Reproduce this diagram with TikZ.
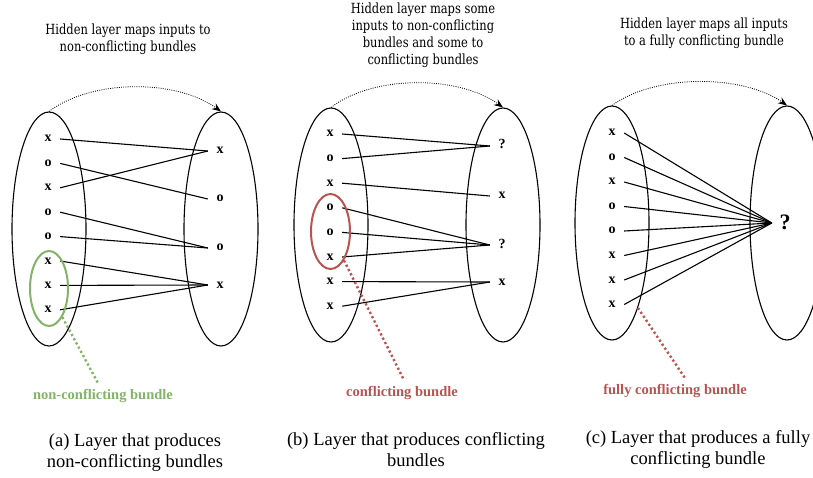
\documentclass[tikz,border=0pt]{standalone}
\usepackage{fontspec}
\setmainfont{Liberation Serif}
\newfontfamily\titlefont[FakeStretch=0.82]{DejaVu Serif}
\usetikzlibrary{shapes.geometric,arrows.meta}
\definecolor{bundlegreen}{HTML}{82B366}
\definecolor{bundlered}{HTML}{B85450}

\tikzset{
  layer/.style={draw, ellipse, line width=1.1pt, minimum width=74pt,
    minimum height=234pt, inner sep=0pt},
  item/.style={font=\bfseries\fontsize{14}{14}\selectfont, inner sep=0pt,
    text height=6pt, text depth=0pt, minimum width=24pt},
  bigq/.style={font=\bfseries\fontsize{22}{22}\selectfont, inner sep=0pt,
    text height=13pt, text depth=0pt, minimum width=26pt},
  link/.style={line width=1.1pt},
  hop/.style={line width=0.8pt, dash pattern=on 0.9pt off 1.3pt,
    -{Stealth[length=9pt,width=7pt]}},
  bundle/.style={draw, ellipse, line width=2pt, inner sep=0pt},
  pointer/.style={line width=2.4pt, dash pattern=on 2.2pt off 2.6pt},
  tag/.style={font=\bfseries\fontsize{14.5}{14.5}\selectfont, inner sep=0pt},
  heading/.style={font=\titlefont\fontsize{14}{17}\selectfont, align=center, inner sep=0pt},
  caption/.style={font=\fontsize{18.5}{21}\selectfont, align=center, inner sep=0pt},
}

\begin{document}
\begin{tikzpicture}[x=1pt,y=-1pt]
\useasboundingbox (0,0) rectangle (813,478);

% ---------------- (a) non-conflicting bundles ----------------
\node[heading] (ha) at (128,39.5) {Hidden layer maps inputs to\\non-conflicting bundles};
\node[layer] (la) at (49,229) {};
\node[layer] (ra) at (221,229) {};
\draw[hop] (la.north) .. controls (92,79) and (176,79) .. (ra.north);

\foreach \t [count=\i] in {x,o,x,o,o,x,x,x}
  \node[item] (a\i) at (48,{139+24.4*(\i-1)}) {\t};
\node[item] (ar1) at (220,151) {x};
\node[item] (ar2) at (220,199) {o};
\node[item] (ar3) at (220,248) {o};
\node[item] (ar4) at (220,285) {x};

\foreach \s/\e in {1/1,2/2,3/1,4/3,5/3,6/4,7/4,8/4}
  \draw[link] (a\s.east) -- (ar\e.west);

\node[bundle, draw=bundlegreen, minimum width=38pt, minimum height=75pt] (ga) at (49,288.5) {};
\node[tag, text=bundlegreen] (ta) at (103,396) {non-conflicting bundle};
\draw[pointer, draw=bundlegreen] (ga.-65) -- ([xshift=-5pt,yshift=6pt]ta.north);

\node[caption] (ca) at (135,453) {(a) Layer that produces\\non-conflicting bundles};

% ---------------- (b) partly conflicting bundles ----------------
\node[heading] (hb) at (423,35) {Hidden layer maps some\\inputs to non-conflicting\\bundles and some to\\conflicting bundles};
\node[layer] (lb) at (331,225) {};
\node[layer] (rb) at (503,225) {};
\draw[hop] (lb.north) .. controls (373,75) and (458,75) .. (rb.north);

\foreach \t [count=\i] in {x,o,x,o,o,x,x,x}
  \node[item] (b\i) at (330,{134+24.6*(\i-1)}) {\t};
\node[item] (br1) at (502,146) {?};
\node[item] (br2) at (502,196) {x};
\node[item] (br3) at (502,245) {?};
\node[item] (br4) at (502,282) {x};

\foreach \s/\e in {1/1,2/1,3/2,4/3,5/3,6/3,7/4,8/4}
  \draw[link] (b\s.east) -- (br\e.west);

\node[bundle, draw=bundlered, minimum width=39pt, minimum height=75pt] (rdb) at (330.5,231.5) {};
\node[tag, text=bundlered] (tb) at (402,393) {conflicting bundle};
\draw[pointer, draw=bundlered] (rdb.-65) -- ([xshift=2pt,yshift=6pt]tb.north);

\node[caption] (cb) at (416,450) {(b) Layer that produces conflicting\\bundles};

% ---------------- (c) one fully conflicting bundle ----------------
\node[heading] (hc) at (704,33) {Hidden layer maps all inputs\\to a fully conflicting bundle};
\node[layer] (lc) at (612,223) {};
\node[layer] (rc) at (787,223) {};
\draw[hop] (lc.north) .. controls (655,74) and (742,74) .. (rc.north);

\foreach \t [count=\i] in {x,o,x,o,o,x,x,x}
  \node[item] (c\i) at (612,{133+24.5*(\i-1)}) {\t};
\node[bigq] (cq) at (785,223) {?};

\foreach \s in {1,...,8}
  \draw[link] (c\s.east) -- (cq.west);

\node[tag, text=bundlered] (tc) at (675,391) {fully conflicting bundle};
\draw[pointer, draw=bundlered] (lc.-73) -- ([xshift=10pt,yshift=6pt]tc.north);

\node[caption] (cc) at (698,449) {(c) Layer that produces a fully\\conflicting bundle};
\end{tikzpicture}
\end{document}
